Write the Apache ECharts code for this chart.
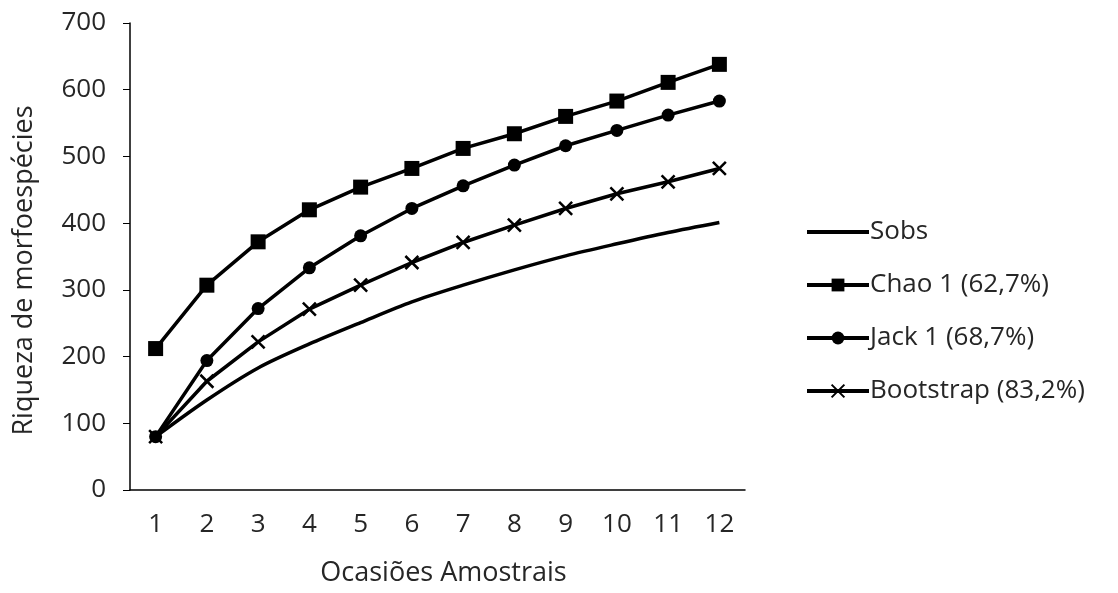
<!DOCTYPE html>
<html><head><meta charset="utf-8">
<script src="https://cdn.jsdelivr.net/npm/echarts@6/dist/echarts.min.js"></script>
<style>html,body{margin:0;padding:0;background:#fff}#c{width:1118px;height:593px}</style>
</head><body><div id="c"></div>
<script>
const categories = ['1','2','3','4','5','6','7','8','9','10','11','12'];
const sobs = [80,135,183,219,251,282,307,330,351,369,386,401];
const chao = [212,307,372,420,454,482,512,534,560,583,611,638];
const jack = [80,194,272,333,381,422,456,487,516,539,562,583];
const boot = [80,163,222,271,307,341,371,397,422,444,462,482];
const seriesNames = ['Sobs','Chao 1 (62,7%)','Jack 1 (68,7%)','Bootstrap (83,2%)'];
const yTicks = [0,100,200,300,400,500,600,700];

const font = 'Open Sans, Noto Sans, sans-serif';
const txt = '#262626';
const xPath = 'path://M0,0L10,10M10,0L0,10';
const lineIcon = 'path://M0,0L0.01,0L0.01,0.01L0,0.01ZM0,6L62,6L62,10L0,10ZM61.99,15.99L62,15.99L62,16L61.99,16Z';
function mk(name, data, symbol, size, smooth){
  return {name, type:'line', data, symbol, symbolSize:size, smooth: smooth||false,
    showSymbol: symbol!=='none',
    lineStyle:{color:'#000', width:3.5},
    itemStyle:{color:'#000', borderColor:'#000', borderWidth: symbol===xPath?2.5:0},
    emphasis:{disabled:true}, animation:false};
}
const chart = echarts.init(document.getElementById('c'));
chart.setOption({
  animation:false,
  grid:{left:130, right:373, top:23, bottom:103},
  legend:{orient:'vertical', left:800, top:214, itemGap:27, itemWidth:62, itemHeight:16,
    lineStyle:{color:'#000', width:4},
    textStyle:{fontFamily:font, fontSize:26, color:txt, padding:[0,0,0,-4]},
    data:[{name:seriesNames[0], icon:lineIcon, itemStyle:{color:'#000', borderWidth:0}}, seriesNames[1], seriesNames[2], seriesNames[3]]},
  xAxis:{type:'category', data:categories, boundaryGap:true,
    axisLine:{lineStyle:{color:'#000', width:1.5}}, axisTick:{show:false},
    axisLabel:{fontFamily:font, fontSize:26, color:txt, margin:22},
    name:'Ocasiões Amostrais', nameLocation:'middle', nameGap:70,
    nameTextStyle:{fontFamily:font, fontSize:27, color:txt, padding:[0,0,0,12]}},
  yAxis:{type:'value', min:yTicks[0], max:yTicks[yTicks.length-1], interval:100,
    axisLine:{show:true, lineStyle:{color:'#000', width:1.5}},
    axisTick:{show:true, length:7, lineStyle:{color:'#000'}},
    splitLine:{show:false},
    axisLabel:{fontFamily:font, fontSize:26, color:txt, margin:24},
    name:'Riqueza de morfoespécies', nameLocation:'middle', nameGap:92,
    nameTextStyle:{fontFamily:font, fontSize:27, color:txt, padding:[0,28,0,0]}},
  series:[
    mk(seriesNames[0], sobs, 'none', 0, 0.3),
    mk(seriesNames[1], chao, 'rect', 15),
    mk(seriesNames[2], jack, 'circle', 13),
    mk(seriesNames[3], boot, xPath, 13)
  ]
});
</script></body></html>
